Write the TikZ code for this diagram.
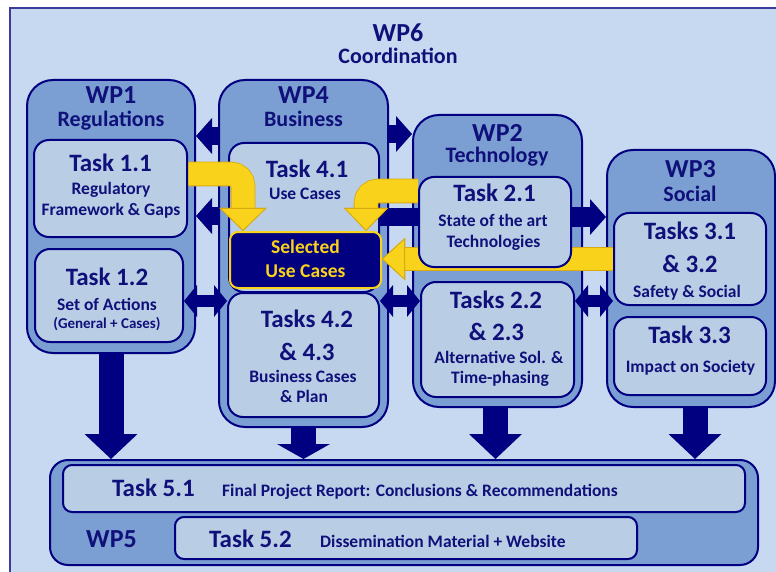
\documentclass[tikz,border=0pt]{standalone}
\usepackage{fontspec}
\setmainfont{Carlito}
\usetikzlibrary{arrows.meta,fit}
\pgfdeclarelayer{base}
\pgfdeclarelayer{links}
\pgfsetlayers{base,links,main}

\definecolor{pagebg}{HTML}{C6D9F1}
\definecolor{wpfill}{HTML}{7B9FD2}
\definecolor{taskfill}{HTML}{B9CDE5}
\definecolor{deepblue}{HTML}{000080}
\definecolor{inkblue}{HTML}{10107A}
\definecolor{sun}{HTML}{F9D21C}
\definecolor{sunedge}{HTML}{D8A910}
\definecolor{rim}{HTML}{3C3CA0}

\tikzset{
  wpbox/.style={draw=deepblue, line width=2pt, fill=wpfill, rounded corners=26pt, inner sep=0pt},
  taskbox/.style={draw=deepblue, line width=2pt, fill=taskfill, rounded corners=15pt, inner sep=0pt},
  barbox/.style={taskbox, rounded corners=9pt},
  selbox/.style={draw=sun, line width=2pt, fill=deepblue, rounded corners=8pt, inner sep=0pt},
  lab/.style={text=inkblue, anchor=base, inner sep=0pt},
  fwp/.style={lab, font=\bfseries\fontsize{26}{30}\selectfont},
  fsub/.style={lab, font=\bfseries\fontsize{22}{26}\selectfont},
  ftask/.style={lab, font=\bfseries\fontsize{25}{30}\selectfont},
  fdesc/.style={lab, font=\bfseries\fontsize{17.5}{21}\selectfont},
  fsmall/.style={lab, font=\bfseries\fontsize{15}{18}\selectfont},
  fsel/.style={lab, text=sun, font=\bfseries\fontsize{19.5}{23}\selectfont},
  % block arrows drawn as thick strokes ending in a wide triangle
  sink/.style={draw=deepblue, line width=25pt, -{Triangle[length=#1,width=53pt,line width=0pt]}},
  sink/.default=25pt,
  sidearrow/.style={draw=deepblue, line width=18pt, -{Triangle[length=16pt,width=36pt,line width=0pt]}},
  sidebar/.style={draw=deepblue, line width=18pt},
  twoway/.style={draw=deepblue, line width=12pt,
    {Triangle[length=13pt,width=32pt,line width=0pt]}-{Triangle[length=13pt,width=32pt,line width=0pt]}},
  feed/.style={draw=sun, line width=23pt, rounded corners=12pt,
    preaction={draw=sunedge, line width=24.6pt},
    -{Triangle[length=23pt,width=#1,line width=0.8pt,color=sunedge,fill=sun]}},
}

\begin{document}
\begin{tikzpicture}[x=1pt,y=-1pt]
\useasboundingbox (0,0) rectangle (776,572);

\begin{pgfonlayer}{base}
  % coordination frame (WP6)
  \fill[pagebg] (10,8) rectangle (776,572);
  \draw[rim, line width=2.5pt] (10,572) -- (10,8) -- (776,8);
  % work packages
  \node[wpbox, fit={(27,80) (195,353)}] (wp1) {};
  \node[wpbox, fit={(219,80) (388,427)}] (wp4) {};
  \node[wpbox, fit={(413,115) (582,407)}] (wp2) {};
  \node[wpbox, fit={(607,150) (775,407)}] (wp3) {};
  \node[wpbox, rounded corners=18pt, fit={(50,460) (758,565)}] (wp5) {};
  \node[taskbox, fit={(229,143) (379,292)}] (t41) {};
  \node[selbox, fit={(230,232) (381,288)}] (sel) {};
\end{pgfonlayer}

% tasks
\node[taskbox, fit={(34,140) (187,237)}] (t11) {};
\node[taskbox, fit={(35,249) (183,342)}] (t12) {};
\node[taskbox, fit={(228,293) (379,417)}] (t42) {};
\node[taskbox, fit={(419,177) (571,267)}] (t21) {};
\node[taskbox, fit={(421,282) (574,397)}] (t22) {};
\node[taskbox, fit={(614,213) (766,305)}] (t31) {};
\node[taskbox, fit={(614,317) (766,395)}] (t33) {};
\node[barbox, fit={(63,465) (745,512)}] (t51) {};
\node[barbox, fit={(175,517) (637,559)}] (t52) {};

\begin{pgfonlayer}{links}
  % exchanges between work packages
  \draw[sidearrow] (wp4.west |- 0,136) -- (wp1.east |- 0,136);
  \draw[sidearrow] (wp4.west |- 0,216) -- (wp1.east |- 0,216);
  \draw[sidearrow] (wp4.east |- 0,134) -- (wp2.west |- 0,134);
  \draw[sidebar] (t21.west |- 0,217) -- (t41.east |- 0,217);
  \draw[sidearrow, line width=20pt] (t21.east |- 0,217) -- (wp3.west |- 0,217);
  \draw[twoway] (t12.east |- 0,301) -- (t42.west |- 0,301);
  \draw[twoway] (t42.east |- 0,301) -- (t22.west |- 0,301);
  \draw[twoway] (t22.east |- 0,301) -- (t31.west |- 0,301);
  % contributions to WP5
  \draw[sink] (wp1.south) -- (wp1.south |- wp5.north);
  \draw[sink=15pt] (wp4.south) -- (wp4.south |- wp5.north);
  \draw[sink] ([xshift=-2pt]wp2.south) -- ([xshift=-2pt]wp2.south |- wp5.north);
  \draw[sink] ([xshift=4pt]wp3.south) -- ([xshift=4pt]wp3.south |- wp5.north);
  % inputs to the selected use cases
  \draw[feed=47pt] (t11.east |- 0,174) -- (243,174) -- (243,0 |- sel.north);
  \draw[feed=44pt] (t21.west |- 0,191) -- (366,191) -- (366,0 |- sel.north);
  \draw[feed=42pt, line width=22pt, preaction={draw=sunedge, line width=23.6pt}] (t31.west |- 0,259) -- (sel.east |- 0,259);
\end{pgfonlayer}

% WP6
\node[fwp] (wp6t) at (398,42) {WP6};
\node[fsub] (wp6s) at (398,64) {Coordination};
% WP1
\node[fwp] (wp1t) at (111,104) {WP1};
\node[fsub] (wp1s) at (111,127) {Regulations};
\node[ftask] (t11a) at (110.5,172) {Task 1.1};
\node[fdesc] (t11b) at (111,195) {Regulatory};
\node[fdesc] (t11c) at (111,215) {Framework \& Gaps};
\node[ftask] (t12a) at (107,285) {Task 1.2};
\node[fdesc] (t12b) at (107,310) {Set of Actions};
\node[fsmall] (t12c) at (107,328) {(General + Cases)};
% WP4
\node[fwp] (wp4t) at (303.5,104) {WP4};
\node[fsub] (wp4s) at (303.5,127) {Business};
\node[ftask] (t41a) at (307,178) {Task 4.1};
\node[fdesc] (t41b) at (305,200) {Use Cases};
\node[fsel] (sela) at (305.5,253) {Selected};
\node[fsel] (selb) at (305.5,277) {Use Cases};
\node[ftask] (t42a) at (307,327) {Tasks 4.2};
\node[ftask] (t42b) at (307,360) {\& 4.3};
\node[fdesc] (t42c) at (303,382) {Business Cases};
\node[fdesc] (t42d) at (304,402) {\& Plan};
% WP2
\node[fwp] (wp2t) at (497.5,142) {WP2};
\node[fsub] (wp2s) at (497,163) {Technology};
\node[ftask] (t21a) at (494.5,202) {Task 2.1};
\node[fdesc] (t21b) at (493,226) {State of the art};
\node[fdesc] (t21c) at (493.5,247) {Technologies};
\node[ftask] (t22a) at (496,308) {Tasks 2.2};
\node[ftask] (t22b) at (496.5,340) {\& 2.3};
\node[fdesc] (t22c) at (499,363) {Alternative Sol. \&};
\node[fdesc] (t22d) at (500,383) {Time-phasing};
% WP3
\node[fwp] (wp3t) at (690.5,178) {WP3};
\node[fsub] (wp3s) at (690,202) {Social};
\node[ftask] (t31a) at (690,240) {Tasks 3.1};
\node[ftask] (t31b) at (690,272) {\& 3.2};
\node[fdesc] (t31c) at (687,297) {Safety \& Social};
\node[ftask] (t33a) at (689.5,343) {Task 3.3};
\node[fdesc] (t33b) at (690.5,372) {Impact on Society};
% WP5
\node[fwp] (wp5t) at (111.5,547) {WP5};
\node[ftask, anchor=base west] (t51a) at (112,496) {Task 5.1};
\node[fdesc, anchor=base west] (t51b) at (222,496) {Final Project Report: Conclusions \& Recommendations};
\node[ftask, anchor=base west] (t52a) at (209,547) {Task 5.2};
\node[fdesc, anchor=base west] (t52b) at (320,547) {Dissemination Material + Website};
\end{tikzpicture}
\end{document}
